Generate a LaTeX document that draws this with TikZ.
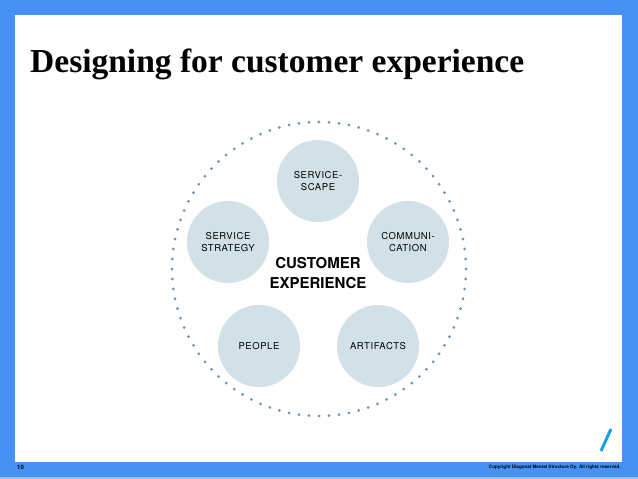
\documentclass[tikz,border=0pt]{standalone}
\usepackage{fontspec}
\setmainfont{Liberation Serif}
\setsansfont{TeX Gyre Heros}
\definecolor{frameblue}{HTML}{4592F2}
\definecolor{bubblefill}{HTML}{D2E1E7}
\definecolor{dotblue}{HTML}{6F8FAE}
\definecolor{slashblue}{HTML}{1C9FE2}
\tikzset{bubble/.style={circle,fill=bubblefill,minimum size=82pt,inner sep=0pt,align=center,
  font=\sffamily\addfontfeatures{LetterSpace=6}\fontsize{9.5}{12}\selectfont}}
\begin{document}
\begin{tikzpicture}[x=1pt,y=-1pt]
\fill[frameblue] (0,0) rectangle (638,479);
\fill[white] (15,15) rectangle (622,462);
\fill[frameblue!55] (0,477) rectangle (638,479);
\node[anchor=base west,inner sep=0pt,font=\bfseries\fontsize{33.5}{33.5}\selectfont] (title) at (30,72) {Designing for customer experience};
\foreach \a in {0,...,91}
  \fill[dotblue] (319,269) ++(\a*3.913:147) circle(1.5);
\node[bubble] (scape) at (318,181) {SERVICE-\\SCAPE};
\node[bubble] (comm) at (408,242) {COMMUNI-\\CATION};
\node[bubble] (strategy) at (228,242) {SERVICE\\STRATEGY};
\node[bubble] (people) at (259,346) {PEOPLE};
\node[bubble] (artifacts) at (378,346) {ARTIFACTS};
\node[align=center,font=\sffamily\bfseries\fontsize{15}{20}\selectfont] (cx) at (318,273) {CUSTOMER\\EXPERIENCE};
\draw[slashblue,line width=3pt] (601,451) -- (611,429);
\node[anchor=west,inner sep=0pt,font=\sffamily\bfseries\fontsize{6}{6}\selectfont] (page) at (17,467.5) {10};
\node[anchor=east,inner sep=0pt,font=\sffamily\bfseries\fontsize{4.6}{5}\selectfont] (copy) at (621,467.5) {Copyright Diagonal Mental Structure Oy. All rights reserved.};
\end{tikzpicture}
\end{document}
